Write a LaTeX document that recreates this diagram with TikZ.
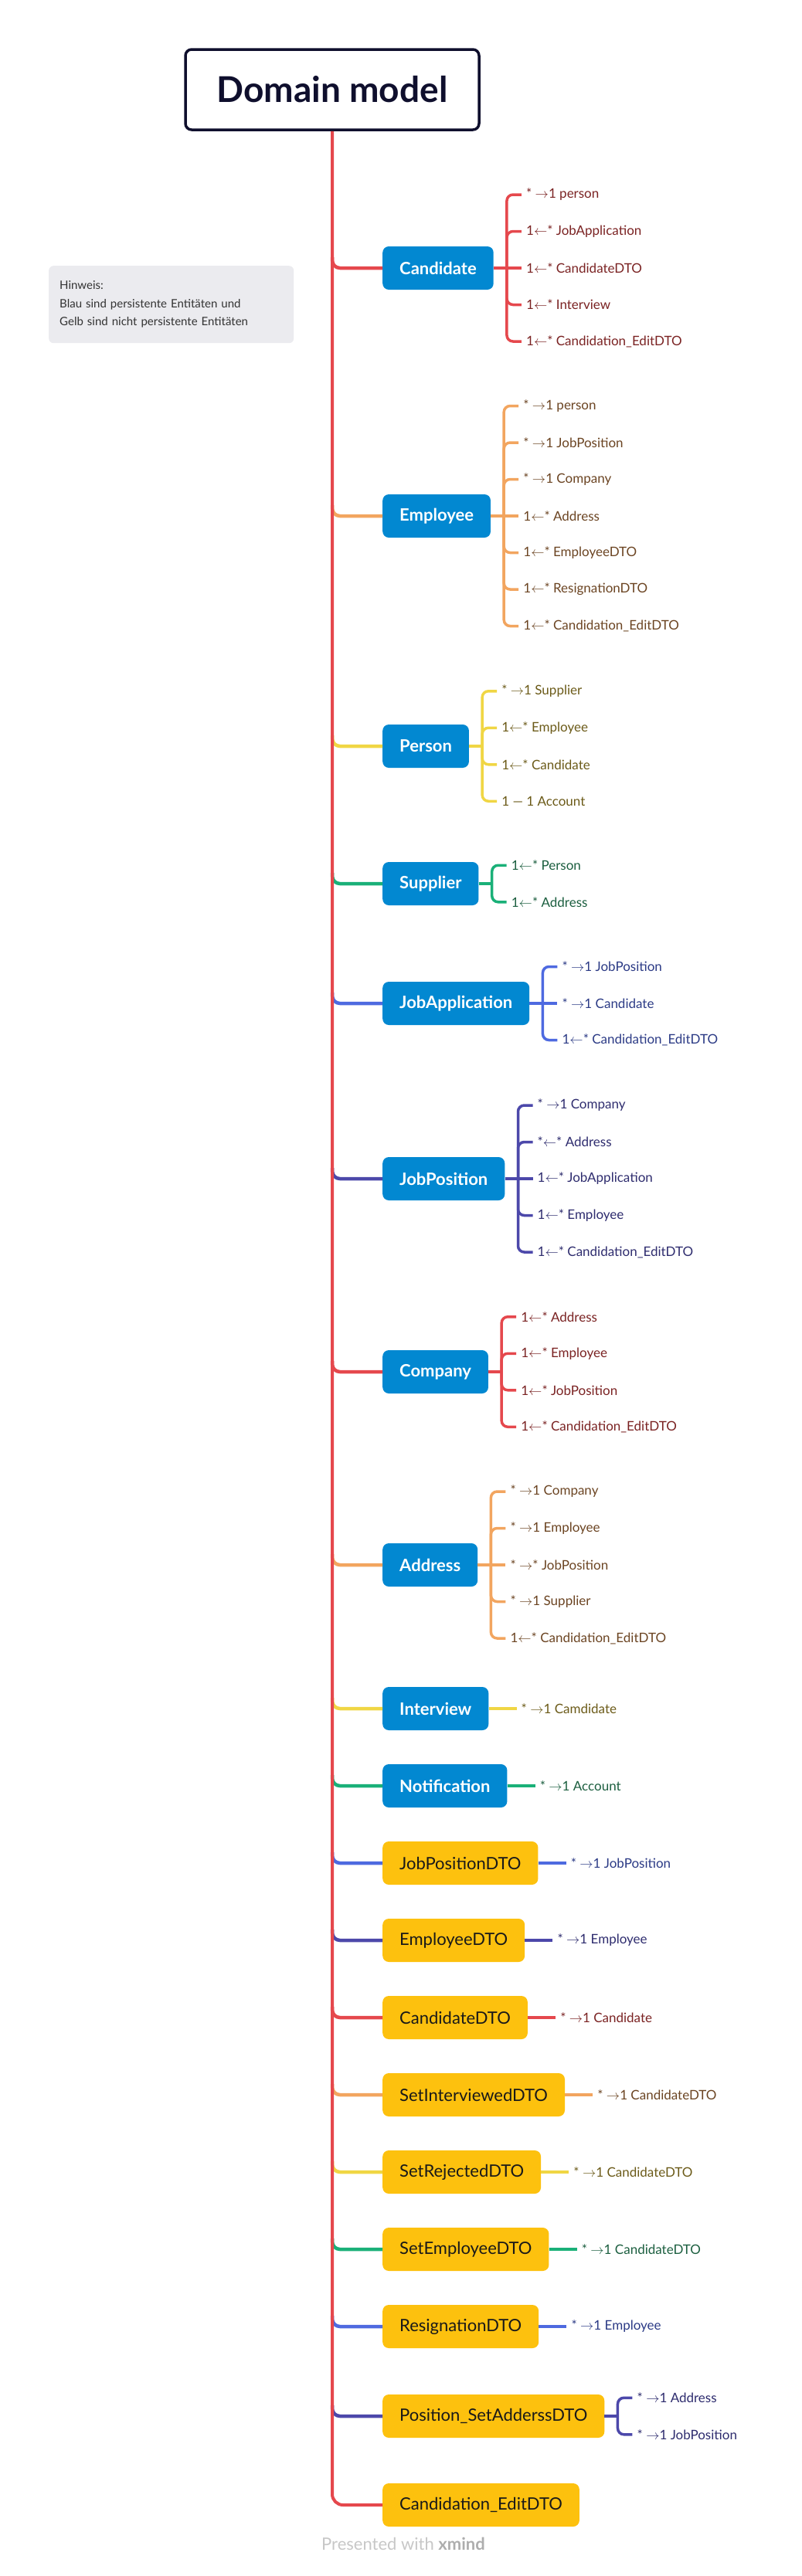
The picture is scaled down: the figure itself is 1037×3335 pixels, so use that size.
\documentclass[tikz,border=0pt]{standalone}
\usepackage{fontspec}
\setmainfont{Lato}
\usetikzlibrary{positioning}

% line and text colours of the branches
\definecolor{lnred}{HTML}{E5484D}     \definecolor{txred}{HTML}{7A2222}
\definecolor{lnorange}{HTML}{F2A55F}  \definecolor{txorange}{HTML}{6B4422}
\definecolor{lnyellow}{HTML}{F0D644}  \definecolor{txyellow}{HTML}{6B5A18}
\definecolor{lngreen}{HTML}{1AB078}   \definecolor{txgreen}{HTML}{1B5E3F}
\definecolor{lnblue}{HTML}{4E6AE0}    \definecolor{txblue}{HTML}{2B3A85}
\definecolor{lnindigo}{HTML}{4C48AA}  \definecolor{txindigo}{HTML}{2E2C6E}
\definecolor{boxblue}{HTML}{0288D1}
\definecolor{boxyellow}{HTML}{FDC10E}
\definecolor{navy}{HTML}{0F0F2D}
\definecolor{notegray}{HTML}{EBEBEF}

\tikzset{
  rootbox/.style={draw=navy, line width=3.5pt, fill=white, rounded corners=8pt,
    minimum width=380pt, minimum height=104pt, text=navy,
    font=\fontsize{46}{50}\selectfont\bfseries},
  note/.style={fill=notegray, rounded corners=6pt, text width=289pt, inner xsep=14pt,
    minimum height=100pt, align=left, text=black!80,
    font=\fontsize{15}{23.5}\selectfont},
  entity/.style={fill=boxblue, text=white, rounded corners=8pt, anchor=west,
    minimum height=56pt, inner xsep=22pt, font=\fontsize{22}{26}\selectfont\bfseries},
  dto/.style={entity, fill=boxyellow, text=black!90, font=\fontsize{22}{26}\selectfont},
  rel/.style={anchor=west, inner xsep=6pt, inner ysep=1pt, font=\fontsize{17}{20}\selectfont},
  branch/.style={line width=4.5pt, rounded corners=10pt},
  kid/.style={line width=3.5pt},
}

\newcommand\arR{$\rightarrow$}
\newcommand\arL{$\leftarrow$}

% #1 parent node, #2 colour, #3 number of relations, #4 relations
\newcommand\relations[4]{%
  \coordinate (#1-b) at ([xshift=17pt]#1.east);
  \draw[kid, ln#2] (#1.east) -- (#1-b);
  \foreach \txt [count=\i] in {#4} {
    \pgfmathsetmacro\off{((#3+1)/2-\i)*47.5}
    \node[rel, text=tx#2] (#1-\i) at ([xshift=36pt,yshift=\off pt]#1.east) {\txt};
    \ifdim\off pt=0pt
      \draw[kid, ln#2] (#1-b) -- (#1-\i.west);
    \else
      \draw[kid, ln#2, rounded corners=8pt] (#1-b) |- (#1-\i.west);
    \fi
  }}

% #1 node, #2 colour
\newcommand\limb[2]{\draw[branch, ln#2] (root.south |- #1.west) ++(0,14pt) |- (#1.west);}

\begin{document}
\begin{tikzpicture}[x=1pt,y=-1pt]
\useasboundingbox (0,0) rectangle (1037,3335);

\node[rootbox] (root) at (430,116) {Domain model};
\node[note, anchor=north west] (hint) at (63,344)
  {Hinweis:\\Blau sind persistente Entitäten und\\Gelb sind nicht persistente Entitäten};

% persistent entities
\node[entity] (cand) at (495,347) {Candidate};
\node[entity] (empl) at (495,668) {Employee};
\node[entity] (pers) at (495,966) {Person};
\node[entity] (supp) at (495,1144) {Supplier};
\node[entity] (japp) at (495,1299) {JobApplication};
\node[entity] (jpos) at (495,1526) {JobPosition};
\node[entity] (comp) at (495,1776) {Company};
\node[entity] (addr) at (495,2026) {Address};
\node[entity] (intv) at (495,2212) {Interview};
\node[entity] (noti) at (495,2312) {Notification};

% not persistent
\node[dto] (jposdto) at (495,2412) {JobPositionDTO};
\node[dto] (empldto) at (495,2512) {EmployeeDTO};
\node[dto] (canddto) at (495,2612) {CandidateDTO};
\node[dto] (setint) at (495,2712) {SetInterviewedDTO};
\node[dto] (setrej) at (495,2812) {SetRejectedDTO};
\node[dto] (setemp) at (495,2912) {SetEmployeeDTO};
\node[dto] (resig) at (495,3012) {ResignationDTO};
\node[dto] (posaddr) at (495,3128) {Position\_SetAdderssDTO};
\node[dto] (candedit) at (495,3243) {Candidation\_EditDTO};

\relations{cand}{red}{5}{* \arR1 person, 1\arL* JobApplication, 1\arL* CandidateDTO,
  1\arL* Interview, 1\arL* Candidation\_EditDTO}
\relations{empl}{orange}{7}{* \arR1 person, * \arR1 JobPosition, * \arR1 Company,
  1\arL* Address, 1\arL* EmployeeDTO, 1\arL* ResignationDTO, 1\arL* Candidation\_EditDTO}
\relations{pers}{yellow}{4}{* \arR1 Supplier, 1\arL* Employee, 1\arL* Candidate, 1 — 1 Account}
\relations{supp}{green}{2}{1\arL* Person, 1\arL* Address}
\relations{japp}{blue}{3}{* \arR1 JobPosition, * \arR1 Candidate, 1\arL* Candidation\_EditDTO}
\relations{jpos}{indigo}{5}{* \arR1 Company, *\arL* Address, 1\arL* JobApplication,
  1\arL* Employee, 1\arL* Candidation\_EditDTO}
\relations{comp}{red}{4}{1\arL* Address, 1\arL* Employee, 1\arL* JobPosition,
  1\arL* Candidation\_EditDTO}
\relations{addr}{orange}{5}{* \arR1 Company, * \arR1 Employee, * \arR* JobPosition,
  * \arR1 Supplier, 1\arL* Candidation\_EditDTO}
\relations{intv}{yellow}{1}{* \arR1 Camdidate}
\relations{noti}{green}{1}{* \arR1 Account}
\relations{jposdto}{blue}{1}{* \arR1 JobPosition}
\relations{empldto}{indigo}{1}{* \arR1 Employee}
\relations{canddto}{red}{1}{* \arR1 Candidate}
\relations{setint}{orange}{1}{* \arR1 CandidateDTO}
\relations{setrej}{yellow}{1}{* \arR1 CandidateDTO}
\relations{setemp}{green}{1}{* \arR1 CandidateDTO}
\relations{resig}{blue}{1}{* \arR1 Employee}
\relations{posaddr}{indigo}{2}{* \arR1 Address, * \arR1 JobPosition}

% branches off the trunk
\limb{cand}{red}     \limb{empl}{orange}  \limb{pers}{yellow}
\limb{supp}{green}   \limb{japp}{blue}    \limb{jpos}{indigo}
\limb{comp}{red}     \limb{addr}{orange}  \limb{intv}{yellow}
\limb{noti}{green}   \limb{jposdto}{blue} \limb{empldto}{indigo}
\limb{canddto}{red}  \limb{setint}{orange} \limb{setrej}{yellow}
\limb{setemp}{green} \limb{resig}{blue}   \limb{posaddr}{indigo}

\draw[lnred, line width=4pt, rounded corners=14pt] (root.south) |- (candedit.west);

\node[text=black!22, font=\fontsize{22}{26}\selectfont] (mark) at (522,3293)
  {Presented with \textcolor{black!32}{\bfseries xmind}};
\end{tikzpicture}
\end{document}
